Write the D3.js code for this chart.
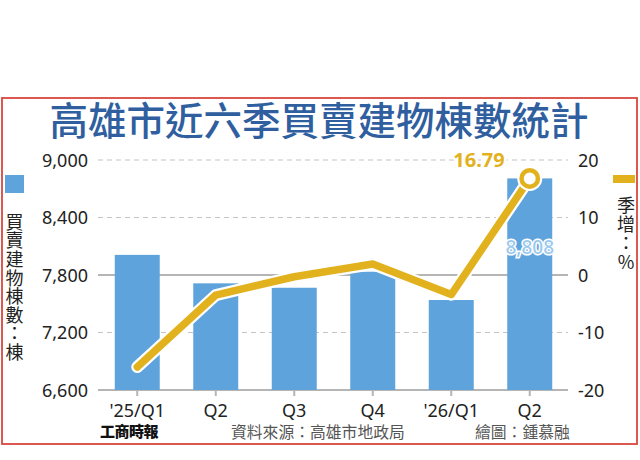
<!DOCTYPE html>
<html><head><meta charset="utf-8">
<script src="https://cdn.jsdelivr.net/npm/d3@7"></script>
<style>
html,body{margin:0;padding:0;background:#fff;}
svg{display:block;}
.vert{writing-mode:vertical-rl;text-orientation:upright;}
</style></head>
<body>
<svg id="chart" width="640" height="460"></svg>
<script>
const categories = ["'25/Q1","Q2","Q3","Q4","'26/Q1","Q2 "];
const tickLabels = ["'25/Q1","Q2","Q3","Q4","'26/Q1","Q2"];
const units = [8010, 7713, 7667, 7834, 7539, 8808];
const growth = [-16.0, -3.5, -0.3, 1.9, -3.4, 16.79];
const leftTicks = [6600, 7200, 7800, 8400, 9000];
const rightTicks = [-20, -10, 0, 10, 20];
const title = "高雄市近六季買賣建物棟數統計";
const leftLegend = "買賣建物棟數：棟";
const rightLegend = "季增：%";
const source = "資料來源：高雄市地政局";
const credit = "繪圖：鍾慕融";
const logo = "工商時報";

const svg = d3.select("#chart");
const CJK = "'Noto Sans CJK TC','Noto Sans CJK SC',sans-serif";
const NUM = "'Noto Sans','Noto Sans CJK TC',sans-serif";
const barColor = "#5fa3dd", gold = "#e2b21e", blueTitle = "#2f5f9f";

const plotTop = 160, plotBottom = 390, plotLeft = 98, plotRight = 569;
const x = d3.scaleBand().domain(categories).range([plotLeft, plotRight]).paddingInner(0.427).paddingOuter(0.2135);
const yL = d3.scaleLinear().domain([6600, 9000]).range([plotBottom, plotTop]);
const yR = d3.scaleLinear().domain([-20, 20]).range([plotBottom, plotTop]);

// frame
svg.append("rect").attr("x", 2).attr("y", 98).attr("width", 635).attr("height", 346)
  .attr("fill", "none").attr("stroke", "#d9473f").attr("stroke-width", 1.8);

// title
svg.append("text").attr("x", 319).attr("y", 135).attr("text-anchor", "middle")
  .attr("font-family", CJK).attr("font-size", 38.5).attr("font-weight", 500)
  .attr("fill", blueTitle).text(title);

// gridlines
leftTicks.forEach(t => {
  const solid = (t === 7800 || t === 6600);
  svg.append("line").attr("x1", plotLeft).attr("x2", 568).attr("y1", yL(t)).attr("y2", yL(t))
    .attr("stroke", solid ? "#b5b5b5" : "#c4c4c4")
    .attr("stroke-width", solid ? 2 : 1.2)
    .attr("stroke-dasharray", solid ? null : "5,4");
});

// bars
svg.selectAll("rect.bar").data(units).join("rect").attr("class", "bar")
  .attr("x", (d, i) => x(categories[i])).attr("width", x.bandwidth())
  .attr("y", d => yL(d)).attr("height", d => plotBottom - yL(d))
  .attr("fill", barColor);

// x ticks
categories.forEach((c, i) => {
  const cx = x(c) + x.bandwidth() / 2;
  svg.append("line").attr("x1", cx).attr("x2", cx).attr("y1", plotBottom).attr("y2", plotBottom + 6)
    .attr("stroke", "#b5b5b5").attr("stroke-width", 2);
  svg.append("text").attr("x", cx).attr("y", 417).attr("text-anchor", "middle")
    .attr("font-family", NUM).attr("font-size", 18).attr("fill", "#222").text(tickLabels[i]);
});

// left axis labels
leftTicks.forEach(t => {
  svg.append("text").attr("x", 88).attr("y", yL(t) + 6.5).attr("text-anchor", "end")
    .attr("font-family", NUM).attr("font-size", 18).attr("fill", "#222").text(d3.format(",")(t));
});
// right axis labels
rightTicks.forEach(t => {
  svg.append("text").attr("x", 578).attr("y", yR(t) + 6.5).attr("text-anchor", "start")
    .attr("font-family", NUM).attr("font-size", 18).attr("fill", "#222").text(t);
});

// line
const pts = growth.map((g, i) => [x(categories[i]) + x.bandwidth() / 2, yR(g)]);
const line = d3.line();
svg.append("path").attr("d", line(pts)).attr("fill", "none").attr("stroke", "#fff")
  .attr("stroke-width", 12).attr("stroke-linejoin", "round").attr("stroke-linecap", "round");
svg.append("path").attr("d", line(pts)).attr("fill", "none").attr("stroke", gold)
  .attr("stroke-width", 7.5).attr("stroke-linejoin", "round").attr("stroke-linecap", "round");
const last = pts[pts.length - 1];
svg.append("circle").attr("cx", last[0]).attr("cy", last[1]).attr("r", 12.5).attr("fill", "#fff");
svg.append("circle").attr("cx", last[0]).attr("cy", last[1]).attr("r", 8.2).attr("fill", "#fff")
  .attr("stroke", gold).attr("stroke-width", 4.5);

// value labels
svg.append("text").attr("x", 479).attr("y", 167).attr("text-anchor", "middle")
  .attr("font-family", NUM).attr("font-size", 20).attr("font-weight", 700)
  .attr("fill", gold).attr("stroke", "#fff").attr("stroke-width", 5).attr("paint-order", "stroke")
  .text(d3.format(".2f")(growth[5]));
svg.append("text").attr("x", x(categories[5]) + x.bandwidth() / 2).attr("y", 254).attr("text-anchor", "middle")
  .attr("font-family", NUM).attr("font-size", 19).attr("font-weight", 500)
  .attr("fill", "#9bcaee").attr("stroke", "#fff").attr("stroke-width", 3).attr("paint-order", "stroke")
  .text(d3.format(",")(units[5]));

// vertical legend text (single vertical text element)
function verticalText(str, cx, yTop, spacing) {
  svg.append("text").attr("class", "vert").attr("x", cx).attr("y", yTop)
    .attr("font-family", CJK).attr("font-size", 18).attr("letter-spacing", spacing)
    .attr("fill", "#222").text(str);
}
// left legend
svg.append("rect").attr("x", 5).attr("y", 175).attr("width", 19).attr("height", 18).attr("fill", barColor);
verticalText(leftLegend, 14.5, 213, 0.6);
// right legend
svg.append("rect").attr("x", 613).attr("y", 175).attr("width", 22).attr("height", 8).attr("fill", gold);
verticalText(rightLegend, 626, 196, 1);

// footer
svg.append("text").attr("x", 100).attr("y", 437).attr("font-family", CJK)
  .attr("font-size", 15).attr("font-weight", 900).attr("fill", "#111").attr("letter-spacing", -0.5).text(logo);
svg.append("text").attr("x", 231).attr("y", 438).attr("font-family", CJK)
  .attr("font-size", 15.8).attr("fill", "#555").text(source);
svg.append("text").attr("x", 475).attr("y", 438).attr("font-family", CJK)
  .attr("font-size", 15.8).attr("fill", "#555").text(credit);
</script>
</body></html>
